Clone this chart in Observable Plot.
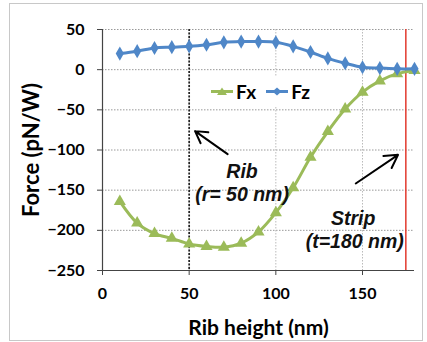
<!DOCTYPE html>
<html>
<head>
<meta charset="utf-8">
<script src="https://cdn.jsdelivr.net/npm/d3@7"></script>
<script src="https://cdn.jsdelivr.net/npm/@observablehq/plot@0.6"></script>
<style>
  body { margin: 0; background: #fff; }
  #wrap { position: relative; width: 427px; height: 342px; overflow: hidden; font-family: Lato, "Open Sans", sans-serif; }
  #border { position: absolute; left: 9px; top: 3px; width: 412px; height: 336px; border: 1.5px solid #c8c8c8; pointer-events: none; }
  #legend { position: absolute; left: 200px; top: 76px; width: 120px; height: 30px; background: #fff; display: flex; align-items: center; font-weight: bold; font-size: 19px; color: #000; }
  #legend .item { display: flex; align-items: center; }
  #legend svg { display: block; }
</style>
</head>
<body>
<div id="wrap">
  <div id="chart"></div>
  <div id="legend"></div>
  <div id="border"></div>
</div>
<script>
// Data
const ribHeight = [10, 20, 30, 40, 50, 60, 70, 80, 90, 100, 110, 120, 130, 140, 150, 160, 170, 180];
const fxValues  = [-164, -191, -204, -210, -217, -220, -221, -216, -202, -178, -147, -109, -77, -49, -28, -14, -5, -1];
const fzValues  = [20, 23, 27, 28, 29, 31, 34, 35, 35, 34, 29, 22, 14, 8, 3, 2, 1, 1];
const seriesNames = ["Fx", "Fz"];
const xTicks = [0, 50, 100, 150];
const yTicks = [-250, -200, -150, -100, -50, 0, 50];
const ribRadius = 50;      // dashed line marker
const stripThickness = 175; // red line position on axis

const green = "#9bbb59";
const blue = "#4f87c8";

const fxRows = ribHeight.map((h, i) => ({h, v: fxValues[i]}));
const fzRows = ribHeight.map((h, i) => ({h, v: fzValues[i]}));

const notes = [
  {x: 80.5, y: -127, text: "Rib"},
  {x: 80.5, y: -156, text: "(r= 50 nm)"},
  {x: 144.6, y: -185, text: "Strip"},
  {x: 145.5, y: -214, text: "(t=180 nm)"}
];
const arrows = [
  {x1: 72.2, y1: -105.2, x2: 53.4, y2: -76.5},
  {x1: 146.1, y1: -141.7, x2: 170.5, y2: -106}
];

const chart = Plot.plot({
  width: 427,
  height: 342,
  marginLeft: 102,
  marginRight: 13,
  marginTop: 29,
  marginBottom: 72,
  style: {fontFamily: "Lato, 'Open Sans', sans-serif", fontWeight: "bold", fontSize: "16px", color: "#000", background: "transparent"},
  x: {domain: [0, 180]},
  y: {domain: [-250, 50]},
  marks: [
    Plot.gridY(yTicks, {stroke: "#999", strokeOpacity: 1, strokeDasharray: "1.5,1.5", strokeWidth: 1}),
    Plot.gridX(xTicks.filter(d => d > 0), {stroke: "#bbb", strokeOpacity: 1, strokeDasharray: "1.5,1.5", strokeWidth: 1}),
    Plot.ruleX([ribRadius], {stroke: "#222", strokeWidth: 1.7, strokeDasharray: "2,1.5"}),
    Plot.ruleX([stripThickness], {stroke: "#e23a2e", strokeWidth: 1.5}),
    Plot.ruleX([0], {stroke: "#444", strokeWidth: 1.2}),
    Plot.ruleY([-250], {stroke: "#444", strokeWidth: 1.2}),
    Plot.axisY(yTicks, {tickSize: 5, tickPadding: 13, fontSize: 16, fontWeight: "bold", stroke: "#444",
      label: "Force (pN/W)", labelAnchor: "center", labelArrow: "none", labelOffset: 79}),
    Plot.axisX(xTicks, {tickSize: 5, tickPadding: 12, fontSize: 16, fontWeight: "bold", stroke: "#444",
      label: "Rib height (nm)", labelAnchor: "center", labelArrow: "none", labelOffset: 64}),
    Plot.line(fxRows, {x: "h", y: "v", stroke: green, strokeWidth: 3, curve: "catmull-rom"}),
    Plot.dot(fxRows, {x: "h", y: "v", symbol: "triangle", fill: green, r: 4.5}),
    Plot.line(fzRows, {x: "h", y: "v", stroke: blue, strokeWidth: 3, curve: "catmull-rom"}),
    Plot.dot(fzRows, {x: "h", y: "v", symbol: "diamond", fill: blue, r: 4.3}),
    Plot.text(notes, {x: "x", y: "y", text: "text", fontSize: 19.5, fontWeight: "bold", fontStyle: "italic", fontFamily: "'Liberation Sans', Arial, sans-serif", fill: "#111"}),
    Plot.arrow(arrows, {x1: "x1", y1: "y1", x2: "x2", y2: "y2", stroke: "#000", strokeWidth: 2, headLength: 11})
  ]
});
chart.querySelectorAll("[aria-label='y-axis label'] text").forEach(t => t.setAttribute("font-size", "22"));
chart.querySelectorAll("[aria-label='x-axis label'] text").forEach(t => t.setAttribute("font-size", "21"));
document.getElementById("chart").appendChild(chart);

// Legend
const legend = document.getElementById("legend");
const colors = {Fx: green, Fz: blue};
seriesNames.forEach((name, i) => {
  const item = document.createElement("div");
  item.className = "item";
  item.style.marginLeft = i === 0 ? "11px" : "10px";
  const sym = name === "Fx"
    ? `<polygon points="11,1.5 16,9 6,9" fill="${colors[name]}"/>`
    : `<polygon points="11,1.5 15.5,5.5 11,9.5 6.5,5.5" fill="${colors[name]}"/>`;
  item.innerHTML = `<svg width="22" height="11"><line x1="0" x2="22" y1="5.5" y2="5.5" stroke="${colors[name]}" stroke-width="3"/>${sym}</svg><span style="margin-left:3px">${name}</span>`;
  legend.appendChild(item);
});
</script>
</body>
</html>
